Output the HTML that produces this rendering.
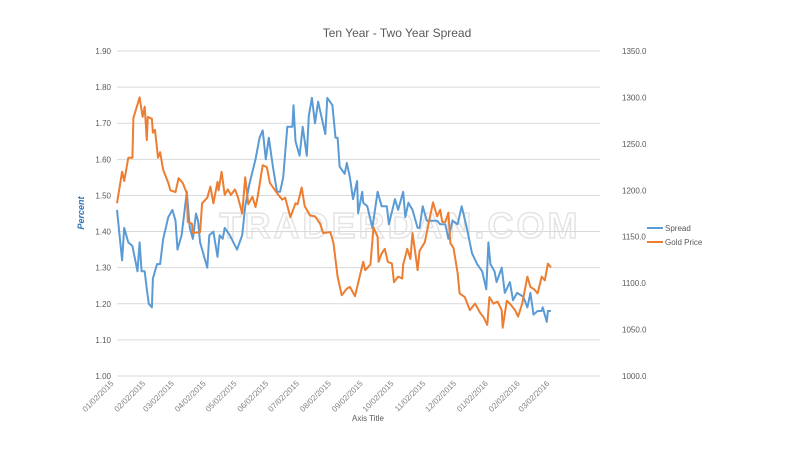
<!DOCTYPE html>
<html><head><meta charset="utf-8"><style>
body{margin:0;background:#fff}
svg{display:block;font-family:"Liberation Sans",sans-serif}
</style></head><body>
<svg id="chart" width="800" height="450">
<rect width="800" height="450" fill="#fff"/>
<text x="397" y="37" text-anchor="middle" font-size="12" fill="#595959">Ten Year - Two Year Spread</text>
<text x="400" y="238" text-anchor="middle" font-size="36" font-weight="bold" letter-spacing="3" fill="none" stroke="#e4e4e4" stroke-width="1.5">TRADERDAN.COM</text>
<g id="grid"></g>
<g id="yl"></g>
<g id="yr"></g>
<g id="xa"></g>
<g id="series"></g>
<text transform="translate(84,213) rotate(-90)" text-anchor="middle" font-size="9" font-style="italic" font-weight="bold" fill="#2e75b6">Percent</text>
<text x="368" y="421" text-anchor="middle" font-size="8" fill="#595959">Axis Title</text>
<g>
<g><line x1="647" y1="228" x2="663" y2="228" stroke="#5b9bd5" stroke-width="2"/><text x="665" y="231" font-size="8" fill="#595959">Spread</text></g>
<g><line x1="647" y1="242" x2="663" y2="242" stroke="#ed7d31" stroke-width="2"/><text x="665" y="245" font-size="8" fill="#595959">Gold Price</text></g>
</g>
</svg>
<script>
const leftTicks=[1.00,1.10,1.20,1.30,1.40,1.50,1.60,1.70,1.80,1.90];
const rightTicks=[1000,1050,1100,1150,1200,1250,1300,1350];
const xTickLabels=["01/02/2015","02/02/2015","03/02/2015","04/02/2015","05/02/2015","06/02/2015","07/02/2015","08/02/2015","09/02/2015","10/02/2015","11/02/2015","12/02/2015","01/02/2016","02/02/2016","03/02/2016"];
const xTickDays=[0,31,59,90,120,151,181,212,243,273,304,334,365,396,425];
const spreadDays=[0,5,7,11,15,20,22,24,27,29,31,34,35,39,42,45,50,54,57,59,63,66,68,71,74,77,79,81,86,88,90,94,98,100,103,105,110,117,122,125,129,135,139,142,145,148,152,156,159,162,166,171,172,174,178,181,185,187,190,193,196,203,205,210,213,215,217,222,224,227,230,234,235,239,240,244,249,254,258,263,265,271,274,279,281,284,288,293,295,298,302,307,312,315,320,323,327,332,336,341,346,351,356,360,362,364,368,370,375,378,383,386,390,396,400,403,406,410,414,415,419,420,423];
const spreadValues=[1.46,1.32,1.41,1.37,1.36,1.29,1.37,1.29,1.29,1.24,1.20,1.19,1.27,1.31,1.31,1.38,1.44,1.46,1.43,1.35,1.39,1.46,1.51,1.41,1.38,1.45,1.43,1.37,1.32,1.30,1.39,1.40,1.33,1.39,1.38,1.41,1.39,1.35,1.39,1.47,1.53,1.60,1.66,1.68,1.60,1.66,1.58,1.51,1.51,1.55,1.69,1.69,1.75,1.65,1.61,1.69,1.61,1.72,1.77,1.70,1.76,1.67,1.77,1.75,1.66,1.66,1.58,1.56,1.59,1.55,1.49,1.54,1.45,1.51,1.48,1.47,1.41,1.51,1.47,1.47,1.42,1.49,1.46,1.51,1.44,1.48,1.46,1.41,1.41,1.47,1.43,1.43,1.43,1.42,1.42,1.38,1.43,1.42,1.47,1.41,1.34,1.31,1.29,1.24,1.37,1.31,1.29,1.26,1.30,1.23,1.26,1.21,1.23,1.22,1.19,1.23,1.17,1.18,1.18,1.19,1.15,1.18,1.18];
const goldDays=[0,5,7,11,15,16,22,25,27,29,30,34,35,37,40,42,45,50,52,57,60,64,68,69,73,74,81,83,88,91,94,98,99,102,105,108,111,115,118,122,125,128,132,135,137,142,146,149,156,161,164,169,174,176,180,183,188,193,198,201,208,211,215,219,224,227,232,240,242,247,250,254,255,258,261,264,268,270,274,278,279,283,286,288,291,293,295,300,303,308,312,315,317,320,323,325,328,332,334,339,344,349,354,357,361,363,367,371,375,376,380,383,388,391,395,400,403,407,410,414,417,420,423];
const goldValues=[1186,1220,1210,1235,1235,1278,1300,1279,1290,1254,1279,1277,1262,1265,1235,1241,1222,1208,1200,1198,1213,1208,1197,1166,1164,1154,1155,1186,1192,1204,1186,1209,1200,1220,1195,1201,1195,1201,1192,1175,1214,1185,1193,1182,1192,1227,1225,1208,1197,1190,1192,1171,1186,1185,1203,1183,1173,1172,1164,1154,1155,1143,1107,1087,1094,1096,1086,1123,1114,1120,1160,1150,1123,1132,1137,1123,1121,1101,1107,1105,1120,1137,1126,1154,1131,1114,1135,1144,1160,1187,1172,1179,1166,1166,1176,1143,1138,1111,1089,1085,1071,1078,1068,1064,1055,1085,1078,1080,1071,1052,1081,1078,1071,1064,1078,1107,1096,1093,1089,1107,1103,1121,1117];

const NS="http://www.w3.org/2000/svg";
const X0=117,X1=600,PX_PER_DAY=436/425,YT=51,YB=376;
function xs(d){return X0+d*PX_PER_DAY;}
function yL(v){return YB-(v-1.0)/(0.9)*(YB-YT);}
function yR(v){return YB-(v-1000)/350*(YB-YT);}
function mk(tag,attrs,parent){const e=document.createElementNS(NS,tag);for(const k in attrs)e.setAttribute(k,attrs[k]);parent.appendChild(e);return e;}
const grid=document.getElementById('grid'),yl=document.getElementById('yl'),yr=document.getElementById('yr'),xa=document.getElementById('xa'),ser=document.getElementById('series');
leftTicks.forEach(v=>{
  const l=mk('line',{x1:X0,x2:X1,y1:yL(v),y2:yL(v),stroke:'#d9d9d9','stroke-width':1},grid);
  
  
  const t=mk('text',{x:111,y:yL(v)+3,'text-anchor':'end','font-size':8,fill:'#595959'},yl);
  t.textContent=v.toFixed(2);
  
  
});
rightTicks.forEach(v=>{
  const t=mk('text',{x:622,y:yR(v)+3,'font-size':8,fill:'#595959'},yr);
  t.textContent=v.toFixed(1);
  
  
});
xTickLabels.forEach((s,i)=>{
  const x=xs(xTickDays[i]);
  const t=mk('text',{transform:`translate(${x-3},384) rotate(-45)`,'text-anchor':'end','font-size':8,fill:'#7f7f7f'},xa);
  t.textContent=s;
  
  
});
const p1=mk('polyline',{points:spreadDays.map((d,i)=>xs(d).toFixed(1)+','+yL(spreadValues[i]).toFixed(1)).join(' '),fill:'none',stroke:'#5b9bd5','stroke-width':2,'stroke-linejoin':'round'},ser);


const p2=mk('polyline',{points:goldDays.map((d,i)=>xs(d).toFixed(1)+','+yR(goldValues[i]).toFixed(1)).join(' '),fill:'none',stroke:'#ed7d31','stroke-width':2,'stroke-linejoin':'round'},ser);


</script>
</body></html>
